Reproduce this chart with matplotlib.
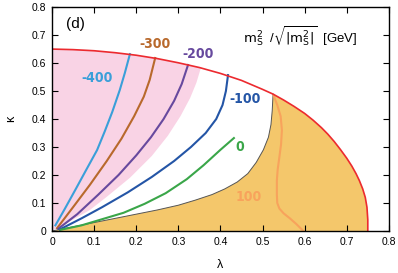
import numpy as np
import matplotlib.pyplot as plt

# red outer boundary (lambda, kappa)
red_lam = [0.0, 0.05, 0.1, 0.15, 0.2, 0.25, 0.3, 0.35, 0.4, 0.45, 0.5, 0.525,
           0.55, 0.575, 0.6, 0.62, 0.64, 0.655, 0.67, 0.685, 0.7, 0.712, 0.722,
           0.73, 0.738, 0.744, 0.748, 0.75, 0.75]
red_kap = [0.65, 0.648, 0.644, 0.637, 0.628, 0.616, 0.601, 0.584, 0.563, 0.538, 0.506, 0.489,
           0.468, 0.445, 0.42, 0.396, 0.369, 0.346, 0.32, 0.291, 0.26, 0.232, 0.205,
           0.18, 0.15, 0.12, 0.085, 0.04, 0.0]

# lower edge of the pink band
pink_lam = [0.0, 0.04, 0.09, 0.13, 0.185, 0.237, 0.275, 0.305, 0.328, 0.343, 0.352, 0.355]
pink_kap = [0.0, 0.032, 0.075, 0.122, 0.19, 0.268, 0.34, 0.41, 0.475, 0.53, 0.575, 0.586]

# edge of the orange region (origin -> cusp)
edge_lam = [0.0, 0.05, 0.1, 0.15, 0.2, 0.25, 0.3, 0.34, 0.38, 0.41, 0.44, 0.465,
            0.485, 0.502, 0.514, 0.52, 0.523, 0.525]
edge_kap = [0.0, 0.015, 0.03, 0.045, 0.06, 0.075, 0.092, 0.11, 0.13, 0.15, 0.175, 0.205,
            0.245, 0.29, 0.335, 0.38, 0.43, 0.489]

# contour lines m_S^2/sqrt|m_S^2|
c400_lam = [0.008, 0.03, 0.055, 0.08, 0.107, 0.125, 0.143, 0.161, 0.173, 0.185]
c400_kap = [0.02, 0.078, 0.146, 0.215, 0.289, 0.355, 0.425, 0.504, 0.565, 0.632]
c300_lam = [0.012, 0.05, 0.09, 0.13, 0.165, 0.195, 0.218, 0.232, 0.245]
c300_kap = [0.01, 0.085, 0.165, 0.25, 0.33, 0.41, 0.48, 0.54, 0.618]
c200_lam = [0.015, 0.06, 0.11, 0.158, 0.2, 0.235, 0.265, 0.29, 0.308, 0.323]
c200_kap = [0.008, 0.06, 0.13, 0.2, 0.27, 0.335, 0.4, 0.465, 0.525, 0.593]
c100_lam = [0.018, 0.07, 0.119, 0.18, 0.237, 0.29, 0.33, 0.365, 0.39, 0.405, 0.413, 0.418]
c100_kap = [0.005, 0.045, 0.085, 0.138, 0.193, 0.25, 0.3, 0.35, 0.4, 0.45, 0.5, 0.557]
c0_lam = [0.02, 0.07, 0.119, 0.17, 0.22, 0.27, 0.32, 0.36, 0.4, 0.432]
c0_kap = [0.004, 0.02, 0.042, 0.065, 0.097, 0.135, 0.185, 0.235, 0.29, 0.332]
cp100_lam = [0.526, 0.535, 0.543, 0.546, 0.544, 0.54, 0.536, 0.534, 0.534, 0.535,
             0.54, 0.55, 0.565, 0.58, 0.597]
cp100_kap = [0.485, 0.45, 0.41, 0.36, 0.31, 0.264, 0.22, 0.18, 0.13, 0.1,
             0.08, 0.063, 0.045, 0.025, 0.0]

plt.rcParams['font.family'] = ['Liberation Sans', 'DejaVu Sans']

fig = plt.figure(figsize=(3.98, 2.73), dpi=100)
ax = fig.add_axes([0.1307, 0.154, 0.8463, 0.82])

red_lam = np.array(red_lam)
red_kap = np.array(red_kap)

# pink band
sel = red_lam < pink_lam[-1]
px = np.concatenate([pink_lam, red_lam[sel][::-1], [0.0]])
py = np.concatenate([pink_kap, red_kap[sel][::-1], [0.0]])
ax.fill(px, py, color='#f9d3e5', lw=0, zorder=1)

# orange region
sel = red_lam > edge_lam[-1]
ox = np.concatenate([edge_lam, red_lam[sel], [0.0]])
oy = np.concatenate([edge_kap, red_kap[sel], [0.0]])
ax.fill(ox, oy, color='#f4c76b', lw=0, zorder=1)
ax.plot(edge_lam, edge_kap, color='#555555', lw=0.7, zorder=2)

ax.plot(red_lam, red_kap, color='#ec2a2f', lw=1.2, zorder=4, solid_joinstyle='round')

lines = [(c400_lam, c400_kap, '#3a9fd9'), (c300_lam, c300_kap, '#b8692c'),
         (c200_lam, c200_kap, '#67499e'), (c100_lam, c100_kap, '#2455a6'),
         (c0_lam, c0_kap, '#3aa649'), (cp100_lam, cp100_kap, '#f8a35c')]
for lx, ly, c in lines:
    ax.plot(lx, ly, color=c, lw=1.5, zorder=3, solid_joinstyle='round')

lab = dict(fontsize=10, fontweight='bold', ha='center', va='center',
           family='DejaVu Sans', fontstretch='condensed')
ax.text(0.107, 0.546, '-400', color='#3a9fd9', **lab)
ax.text(0.245, 0.668, '-300', color='#b8692c', **lab)
ax.text(0.347, 0.632, '-200', color='#67499e', **lab)
ax.text(0.458, 0.471, '-100', color='#2455a6', **lab)
ax.text(0.446, 0.30, '0', color='#3aa649', **lab)
ax.text(0.468, 0.121, '100', color='#f8a35c', **lab)

ax.text(0.055, 0.739, '(d)', fontsize=11, ha='center', va='center')
ax.text(0.59, 0.697, r'$\mathrm{m_S^2}$  /$\sqrt{|\mathrm{m_S^2}|}$  [GeV]',
        fontsize=9.5, ha='center', va='center')

ax.set_xlim(0, 0.8)
ax.set_ylim(0, 0.8)
ticks = [0, 0.1, 0.2, 0.3, 0.4, 0.5, 0.6, 0.7, 0.8]
ticklabels = ['0', '0.1', '0.2', '0.3', '0.4', '0.5', '0.6', '0.7', '0.8']
ax.set_xticks(ticks)
ax.set_xticklabels(ticklabels)
ax.set_yticks(ticks)
ax.set_yticklabels(ticklabels)
ax.tick_params(direction='in', top=True, right=True, length=4, width=0.8, labelsize=7.5, pad=4)
for s in ax.spines.values():
    s.set_linewidth(1.0)
    s.set_zorder(5)

ax.set_xlabel('λ', fontsize=9, labelpad=9)
ax.set_ylabel('κ', fontsize=9, labelpad=11)

fig.savefig('out.png', dpi=100)
